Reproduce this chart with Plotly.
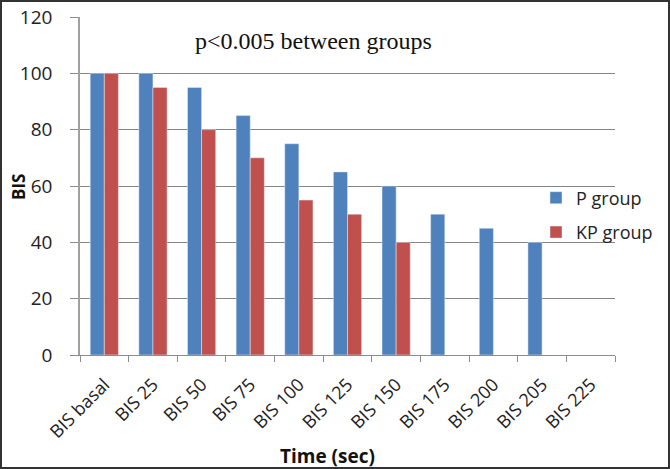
import plotly.graph_objects as go

categories = ["BIS basal", "BIS 25", "BIS 50", "BIS 75", "BIS 100", "BIS 125",
              "BIS 150", "BIS 175", "BIS 200", "BIS 205", "BIS 225"]
p_group = [100, 100, 95, 85, 75, 65, 60, 50, 45, 40, None]
kp_group = [100, 95, 80, 70, 55, 50, 40, None, None, None, None]
y_ticks = [0, 20, 40, 60, 80, 100, 120]

font = "Open Sans, Noto Sans, DejaVu Sans, sans-serif"

fig = go.Figure()
fig.add_trace(go.Bar(x=categories, y=p_group, name="P group", marker_color="#4F81BD",
                     legendgroup="a"))
fig.add_trace(go.Bar(x=categories, y=kp_group, name="KP group", marker_color="#C0504D",
                     legendgroup="b"))

W, H = 670, 469
L, R, T, B = 80, 55, 17, 114
pw, ph = W - L - R, H - T - B


def px(x):
    return (x - L) / pw


def py(y):
    return (H - B - y) / ph


fig.update_layout(
    width=W, height=H,
    margin=dict(l=L, r=R, t=T, b=B, autoexpand=False),
    paper_bgcolor="white", plot_bgcolor="white",
    barmode="group", bargap=0.42, bargroupgap=0,
    font=dict(family=font, size=16, color="#222"),
    showlegend=True,
    legend=dict(x=px(536), y=py(215), xanchor="left", yanchor="middle",
                font=dict(size=18, family=font), tracegroupgap=8,
                bgcolor="rgba(0,0,0,0)"),
    xaxis=dict(
        type="category", tickangle=-45, showgrid=False,
        showline=True, linecolor="#8c8c8c", linewidth=1,
        ticks="outside", tickcolor="#8c8c8c", ticklen=6,
        tickson="boundaries",
        tickfont=dict(size=18, family=font),
        ticklabelstandoff=11,
    ),
    yaxis=dict(
        range=[0, 120], tickvals=y_ticks, showgrid=True, gridcolor="#858585", gridwidth=1,
        showline=True, linecolor="#a0a0a0", linewidth=1.5,
        ticks="outside", tickcolor="#8c8c8c", ticklen=8,
        tickfont=dict(size=19, family=font),
        ticklabelstandoff=14,
        zeroline=False,
    ),
    annotations=[
        dict(text="p<0.005 between groups", xref="paper", yref="paper",
             x=px(313), y=py(41), xanchor="center", yanchor="middle", showarrow=False,
             font=dict(family="Liberation Serif, Times New Roman, serif", size=24,
                       color="#111")),
        dict(text="<b>Time (sec)</b>", xref="paper", yref="paper",
             x=px(327), y=py(456), xanchor="center", yanchor="middle", showarrow=False,
             font=dict(family=font, size=19, color="#111")),
        dict(text="<b>BIS</b>", xref="paper", yref="paper", textangle=-90,
             x=px(18), y=py(187), xanchor="center", yanchor="middle", showarrow=False,
             font=dict(family=font, size=17, color="#111")),
    ],
    shapes=[dict(type="rect", xref="paper", yref="paper",
                 x0=px(1), x1=px(W - 1),
                 y0=py(H - 1), y1=py(1),
                 line=dict(color="#333", width=2), fillcolor="rgba(0,0,0,0)")],
)

fig.write_html("out.html", config={"displayModeBar": False},
               post_script="document.body.style.margin='0';document.body.style.overflow='hidden';")
